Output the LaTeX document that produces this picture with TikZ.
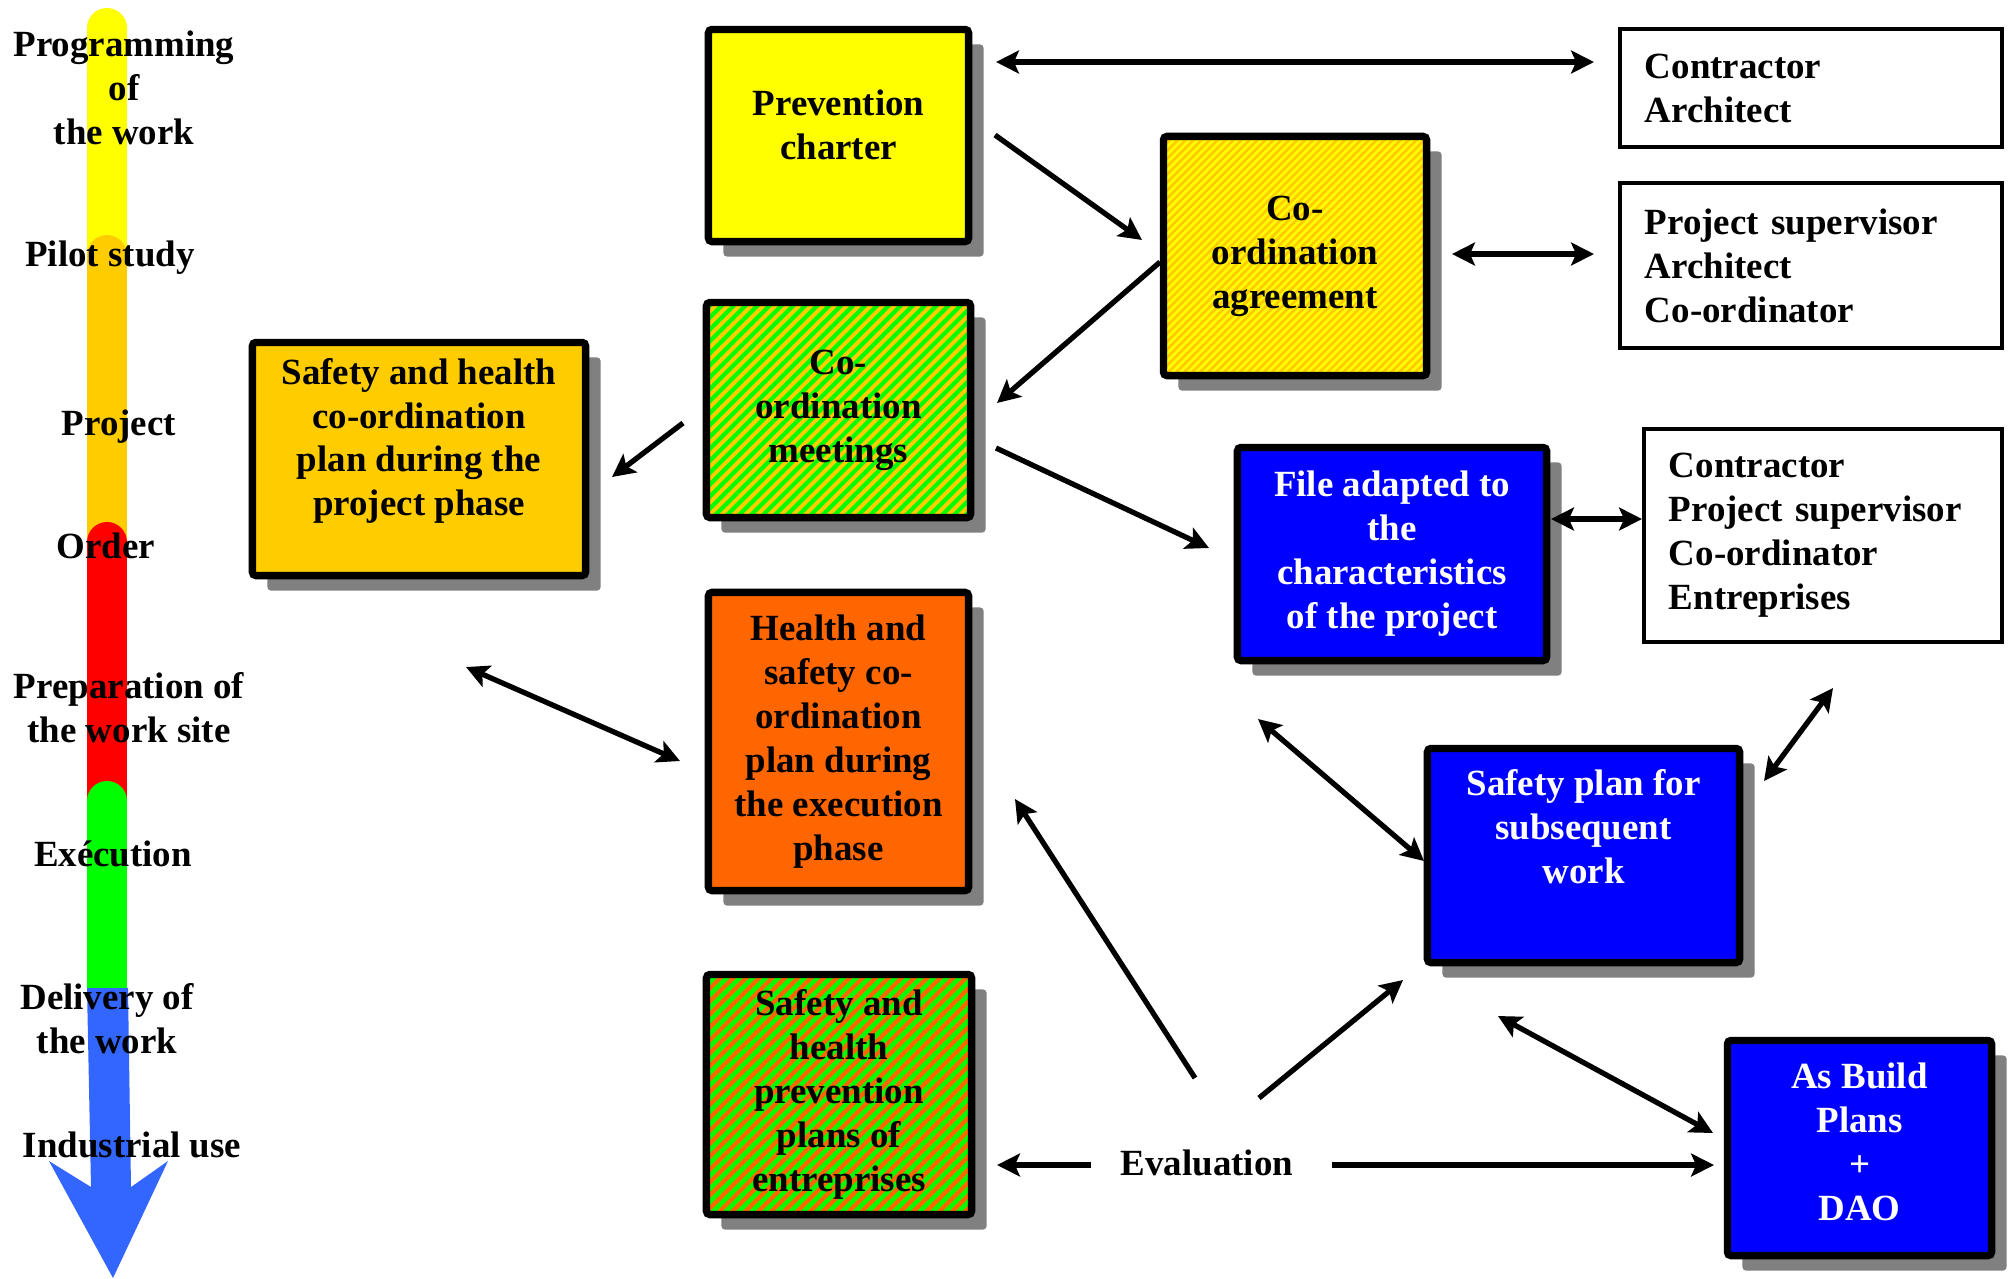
\documentclass[tikz,border=0pt]{standalone}
\usepackage{fontspec}
\setmainfont{Liberation Serif}
\usetikzlibrary{arrows.meta,shadows,patterns.meta}
\definecolor{cyellow}{HTML}{FFFF00}
\definecolor{cgold}{HTML}{FFCC00}
\definecolor{corange}{HTML}{FF6600}
\definecolor{cgreen}{HTML}{00FF00}
\definecolor{cblue}{HTML}{0000FF}
\definecolor{ctime}{HTML}{3366FF}
\definecolor{cshadow}{HTML}{808080}
\tikzset{
  box/.style={draw, line width=2.1pt, rounded corners=1pt, align=center, inner sep=2pt,
    drop shadow={shadow xshift=0.15cm, shadow yshift=-0.15cm, fill=cshadow, opacity=1}},
  whitebox/.style={draw, line width=1.2pt, align=left, inner sep=2pt},
  hatch/.style n args={4}{preaction={fill=#1}, pattern={Lines[angle=45,distance=#3,line width=#4]}, pattern color=#2},
  tip/.tip={Stealth[length=6.5pt,width=6.5pt,inset=1.4pt]},
  arr/.style={line width=1.5pt, -tip},
  dblarr/.style={line width=1.5pt, tip-tip},
  phase/.style={align=center},
  stage/.style={line width=0.4cm, line cap=round},
}
\begin{document}
\begin{tikzpicture}[x=0.01cm, y=-0.01cm, every node/.style={font=\bfseries\fontsize{10.5}{12.5}\selectfont}]
  \useasboundingbox (0,0) rectangle (2013,1278);
  % time line on the left
  \draw[stage,cyellow] (107,28) -- (107,300);
  \draw[stage,cgold] (107,255) -- (107,560);
  \draw[stage,red] (107,542) -- (107,820);
  \draw[stage,cgreen] (107,801) -- (107,990);
  \fill[ctime] (87,988) -- (128,988) -- (131,1187) -- (168,1161) -- (113,1278) -- (49,1161) -- (91,1187) -- cycle;
  \node[phase] (ph1) at (124,88) {Programming\\of\\the work};
  \node[phase] (ph2) at (110,258) {Pilot study};
  \node[phase] (ph3) at (119,427) {Project};
  \node[phase] (ph4) at (106,546) {Order};
  \node[phase] (ph5) at (129,708) {Preparation of\\the work site};
  \node[phase] (ph6) at (113,854) {Exécution};
  \node[phase] (ph7) at (107,1019) {Delivery of\\the work};
  \node[phase] (ph8) at (132,1145) {Industrial use};
  % documents
  \node[box,fill=cyellow,minimum width=2.60cm,minimum height=2.12cm,text depth=0.22cm] (prev) at (838.5,135.5) {Prevention\\charter};
  \node[box,hatch={cyellow}{cgold}{1.6pt}{0.8pt},minimum width=2.63cm,minimum height=2.39cm] (agree) at (1295,256) {Co-\\ordination\\agreement};
  \node[box,hatch={cgold}{cgreen}{2.4pt}{1.2pt},minimum width=2.64cm,minimum height=2.15cm] (meet) at (838.5,410) {Co-\\ordination\\meetings};
  \node[box,fill=cgold,minimum width=3.33cm,minimum height=2.33cm,text depth=0.44cm] (projplan) at (419,459) {Safety and health\\co-ordination\\plan during the\\project phase};
  \node[box,fill=corange,minimum width=2.60cm,minimum height=2.98cm] (execplan) at (838.5,741.5) {Health and\\safety co-\\ordination\\plan during\\the execution\\phase};
  \node[box,hatch={corange}{cgreen}{2.6pt}{1.3pt},minimum width=2.65cm,minimum height=2.40cm] (entplan) at (839,1094.5) {Safety and\\health\\prevention\\plans of\\entreprises};
  \node[box,fill=cblue,text=white,minimum width=3.09cm,minimum height=2.13cm] (filead) at (1392,554) {File adapted to\\the\\characteristics\\of the project};
  \node[box,fill=cblue,text=white,minimum width=3.12cm,minimum height=2.14cm,text depth=0.58cm] (subseq) at (1583.5,855.5) {Safety plan for\\subsequent\\work};
  \node[box,fill=cblue,text=white,minimum width=2.64cm,minimum height=2.15cm,text depth=0.12cm] (asbuild) at (1859.5,1148) {As Build\\Plans\\+\\DAO};
  % actors
  \node[whitebox,minimum width=3.82cm,minimum height=1.18cm,text width=3.32cm] (contr) at (1811,88) {Contractor\\Architect};
  \node[whitebox,minimum width=3.82cm,minimum height=1.65cm,text width=3.32cm] (superv) at (1811,265.5) {Project supervisor\\Architect\\Co-ordinator};
  \node[whitebox,minimum width=3.58cm,minimum height=2.13cm,text width=3.08cm] (actors) at (1823,535.5) {Contractor\\Project supervisor\\Co-ordinator\\Entreprises};
  \node (eval) at (1207,1163) {Evaluation};
  % arrow ends
  \coordinate (prev-r) at (996,62);   \coordinate (contr-l) at (1594,62);
  \coordinate (prev-d) at (995,135);  \coordinate (agree-l) at (1142,240);
  \coordinate (agree-w) at (1160,262); \coordinate (meet-r) at (997,403);
  \coordinate (agree-r) at (1452,254); \coordinate (superv-l) at (1594,254);
  \coordinate (meet-l) at (683,423);  \coordinate (projplan-r) at (612,477);
  \coordinate (meet-d) at (996,448);  \coordinate (filead-l) at (1209,548);
  \coordinate (filead-r) at (1551,519); \coordinate (actors-l) at (1642,519);
  \coordinate (projplan-d) at (466,667); \coordinate (execplan-l) at (680,761);
  \coordinate (eval-ul) at (1195,1078); \coordinate (execplan-r) at (1015,799);
  \coordinate (eval-ur) at (1259,1098); \coordinate (subseq-d) at (1403,980);
  \coordinate (filead-d) at (1258,719); \coordinate (subseq-l) at (1424,861);
  \coordinate (subseq-r) at (1764,781); \coordinate (actors-d) at (1833,688);
  \coordinate (subseq-b) at (1498,1016); \coordinate (asbuild-u) at (1713,1133);
  \coordinate (eval-r) at (1332,1165); \coordinate (asbuild-l) at (1714,1165);
  \coordinate (eval-l) at (1091,1165); \coordinate (entplan-r) at (997,1165);
  % connectors
  \draw[dblarr] (prev-r) -- (contr-l);
  \draw[arr] (prev-d) -- (agree-l);
  \draw[arr] (agree-w) -- (meet-r);
  \draw[dblarr] (agree-r) -- (superv-l);
  \draw[arr] (meet-l) -- (projplan-r);
  \draw[arr] (meet-d) -- (filead-l);
  \draw[dblarr] (filead-r) -- (actors-l);
  \draw[dblarr] (projplan-d) -- (execplan-l);
  \draw[arr] (eval-ul) -- (execplan-r);
  \draw[arr] (eval-ur) -- (subseq-d);
  \draw[dblarr] (filead-d) -- (subseq-l);
  \draw[dblarr] (subseq-r) -- (actors-d);
  \draw[dblarr] (subseq-b) -- (asbuild-u);
  \draw[arr] (eval-r) -- (asbuild-l);
  \draw[arr] (eval-l) -- (entplan-r);
\end{tikzpicture}
\end{document}
